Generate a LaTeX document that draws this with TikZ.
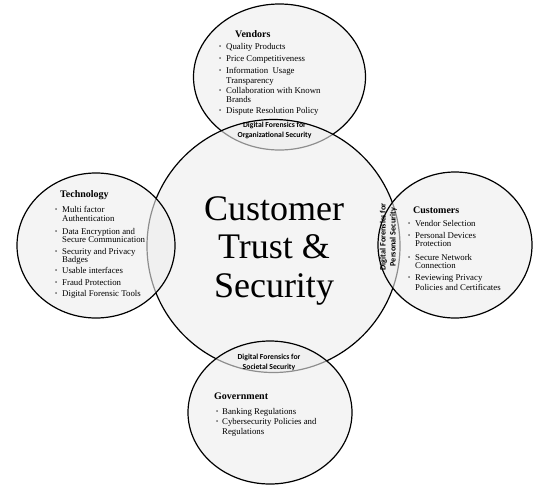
\documentclass[tikz,border=0pt]{standalone}
\usepackage{fontspec}
\setmainfont{Liberation Serif}
\newfontfamily\lensfont{Carlito}
\newfontfamily\titlefont{Liberation Serif}
\usetikzlibrary{shapes.geometric}
\tikzset{
  bubble/.style={ellipse, draw=black, line width=1.2pt, fill=black!7, fill opacity=0.6, inner sep=0pt},
  head/.style={anchor=base west, inner sep=0pt, font=\fontsize{10}{12}\selectfont\bfseries},
  item/.style={anchor=base west, inner sep=0pt, font=\fontsize{8.8}{10}\selectfont},
  lens/.style={anchor=base, inner sep=0pt, font=\lensfont\bfseries\fontsize{7.7}{9}\selectfont},
  lensv/.style={anchor=base, inner sep=0pt, rotate=90, font=\lensfont\bfseries\fontsize{8.2}{9}\selectfont},
  big/.style={anchor=base, inner sep=0pt, font=\titlefont\fontsize{36}{38}\selectfont},
}
\newcommand\bdot{{\fontsize{6}{6}\selectfont\raisebox{0.8pt}{\textbullet}}}
\begin{document}
\begin{tikzpicture}[x=1pt, y=-1pt]
\useasboundingbox (0,0) rectangle (540,485);
% bubbles (order gives the grey arcs inside the overlaps)
\node[bubble, minimum width=172pt, minimum height=146pt] (vendors) at (279.5,77) {};
\node[bubble, minimum width=253pt, minimum height=253pt] (core) at (273.5,246) {};
\node[bubble, minimum width=158pt, minimum height=145pt] (tech) at (96,245.5) {};
\node[bubble, minimum width=154pt, minimum height=146pt] (cust) at (455,245) {};
\node[bubble, minimum width=164pt, minimum height=143pt] (gov) at (270,412.5) {};
% central title
\node[big] (t1) at (274,220) {Customer};
\node[big] (t2) at (274,258.5) {Trust \&};
\node[big] (t3) at (274,297) {Security};
% vendors
\node[head] (vh) at (235,37) {Vendors};
\node[item] (v1) at (219,49) {\makebox[7pt][l]{\bdot}Quality Products};
\node[item] (v2) at (219,61) {\makebox[7pt][l]{\bdot}Price Competitiveness};
\node[item] (v3) at (219,73) {\makebox[7pt][l]{\bdot}Information\ \ Usage};
\node[item] (v4) at (226,83) {Transparency};
\node[item] (v5) at (219,93) {\makebox[7pt][l]{\bdot}Collaboration with Known};
\node[item] (v6) at (226,102.5) {Brands};
\node[item] (v7) at (219,113) {\makebox[7pt][l]{\bdot}Dispute Resolution Policy};
% technology
\node[head] (th) at (60,197) {Technology};
\node[item] (a1) at (55,212) {\makebox[7pt][l]{\bdot}Multi factor};
\node[item] (a2) at (62,221) {Authentication};
\node[item] (a3) at (55,234) {\makebox[7pt][l]{\bdot}Data Encryption and};
\node[item] (a4) at (62,242.5) {Secure Communication};
\node[item] (a5) at (55,254) {\makebox[7pt][l]{\bdot}Security and Privacy};
\node[item] (a6) at (62,262.5) {Badges};
\node[item] (a7) at (55,273.5) {\makebox[7pt][l]{\bdot}Usable interfaces};
\node[item] (a8) at (55,285) {\makebox[7pt][l]{\bdot}Fraud Protection};
\node[item] (a9) at (55,296) {\makebox[7pt][l]{\bdot}Digital Forensic Tools};
% customers
\node[head] (ch) at (413,213) {Customers};
\node[item] (c1) at (408,226) {\makebox[7pt][l]{\bdot}Vendor Selection};
\node[item] (c2) at (408,238) {\makebox[7pt][l]{\bdot}Personal Devices};
\node[item] (c3) at (415,246.5) {Protection};
\node[item] (c4) at (408,260) {\makebox[7pt][l]{\bdot}Secure Network};
\node[item] (c5) at (415,268.5) {Connection};
\node[item] (c6) at (408,280) {\makebox[7pt][l]{\bdot}Reviewing Privacy};
\node[item] (c7) at (415,290) {Policies and Certificates};
% government
\node[head] (gh) at (214,399) {Government};
\node[item] (g1) at (216,414) {\makebox[6pt][l]{\bdot}Banking Regulations};
\node[item] (g2) at (216,424) {\makebox[6pt][l]{\bdot}Cybersecurity\ Policies and};
\node[item] (g3) at (222,434) {Regulations};
% overlap labels
\node[lens] (o1) at (274.5,127.5) {Digital Forensics for};
\node[lens] (o2) at (274.5,137.5) {Organizational Security};
\node[lens] (s1) at (269,359) {Digital Forensics for};
\node[lens] (s2) at (269,369) {Societal Security};
\node[lensv] (p1) at (385.5,237) {Digital Forensics for};
\node[lensv] (p2) at (395.5,237) {Personal Security};
\end{tikzpicture}
\end{document}
